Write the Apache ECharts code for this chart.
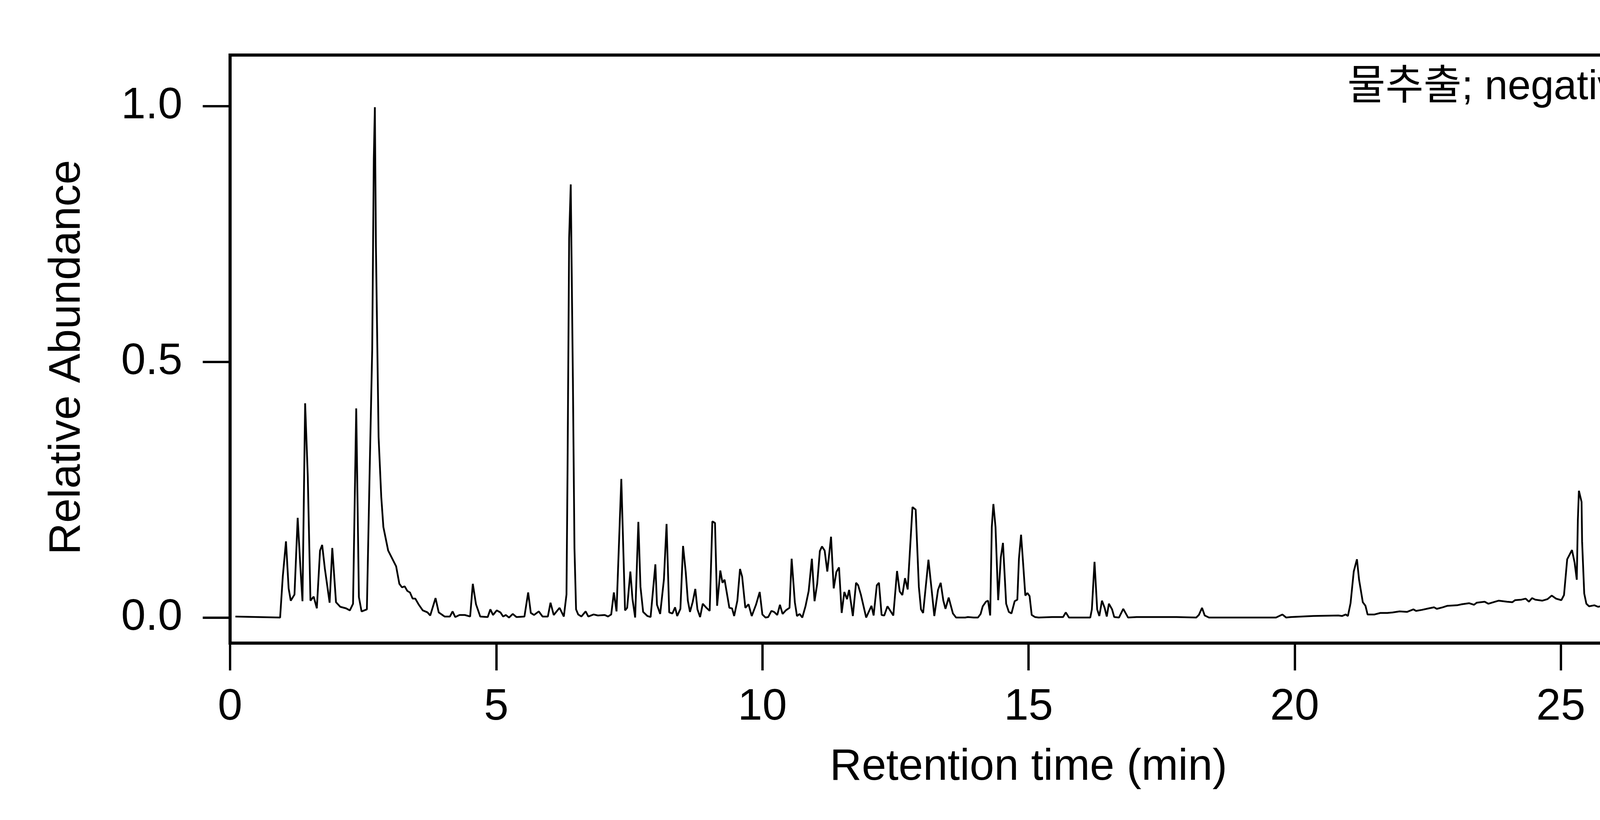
<!DOCTYPE html>
<html>
<head>
<meta charset="utf-8">
<title>Chromatogram</title>
<script src="https://cdn.jsdelivr.net/npm/echarts/dist/echarts.min.js"></script>
<style>
  html, body { margin: 0; padding: 0; background: #fff; }
  #chart { width: 6000px; height: 2100px; }
</style>
</head>
<body>
<div id="chart"></div>
<script>
// 물추출 negative ion mode chromatogram
const retentionTime = [
  0.10, 0.94, 0.99, 1.05, 1.10, 1.14, 1.21, 1.27, 1.32, 1.36, 1.41, 1.46, 1.51, 1.57, 1.63, 1.69, 1.73, 1.78, 1.87, 1.92,
  1.99, 2.07, 2.18, 2.25, 2.31, 2.37, 2.42, 2.47, 2.57, 2.62, 2.67, 2.70, 2.72, 2.74, 2.79, 2.84, 2.88, 2.97, 3.12, 3.18,
  3.23, 3.28, 3.33, 3.38, 3.43, 3.48, 3.54, 3.62, 3.71, 3.76, 3.86, 3.92, 4.03, 4.13, 4.18, 4.23, 4.31, 4.41, 4.51, 4.56,
  4.62, 4.70, 4.84, 4.89, 4.94, 5.01, 5.08, 5.13, 5.18, 5.24, 5.31, 5.38, 5.53, 5.60, 5.65, 5.71, 5.80, 5.87, 5.97, 6.02,
  6.08, 6.19, 6.27, 6.32, 6.34, 6.37, 6.40, 6.44, 6.47, 6.50, 6.54, 6.60, 6.68, 6.73, 6.83, 6.91, 7.04, 7.10, 7.16, 7.21,
  7.26, 7.35, 7.42, 7.46, 7.52, 7.56, 7.61, 7.67, 7.71, 7.76, 7.84, 7.90, 7.99, 8.02, 8.08, 8.15, 8.20, 8.25, 8.31, 8.36,
  8.40, 8.46, 8.51, 8.56, 8.60, 8.64, 8.69, 8.74, 8.78, 8.83, 8.88, 8.94, 9.01, 9.06, 9.11, 9.15, 9.21, 9.25, 9.29, 9.38,
  9.43, 9.47, 9.53, 9.58, 9.62, 9.68, 9.74, 9.80, 9.88, 9.95, 10.00, 10.06, 10.11, 10.17, 10.22, 10.28, 10.33, 10.38, 10.44, 10.51,
  10.55, 10.61, 10.65, 10.70, 10.75, 10.81, 10.87, 10.93, 10.98, 11.03, 11.08, 11.12, 11.17, 11.22, 11.29, 11.34, 11.39, 11.44, 11.49, 11.54,
  11.59, 11.63, 11.70, 11.76, 11.80, 11.85, 11.95, 12.05, 12.09, 12.15, 12.19, 12.24, 12.29, 12.35, 12.46, 12.53, 12.58, 12.63, 12.68, 12.73,
  12.82, 12.88, 12.94, 12.98, 13.02, 13.12, 13.18, 13.23, 13.30, 13.35, 13.40, 13.44, 13.50, 13.58, 13.64, 13.81, 13.86, 13.97, 14.05, 14.10,
  14.14, 14.20, 14.24, 14.28, 14.31, 14.34, 14.38, 14.43, 14.48, 14.52, 14.58, 14.63, 14.68, 14.74, 14.79, 14.82, 14.86, 14.90, 14.94, 14.98,
  15.02, 15.06, 15.12, 15.19, 15.44, 15.65, 15.70, 15.76, 16.10, 16.16, 16.19, 16.24, 16.29, 16.33, 16.38, 16.43, 16.47, 16.51, 16.57, 16.61,
  16.70, 16.78, 16.87, 17.03, 17.78, 18.15, 18.20, 18.26, 18.31, 18.39, 18.95, 19.65, 19.77, 19.84, 19.93, 20.35, 20.82, 20.89, 20.96, 21.00,
  21.05, 21.11, 21.17, 21.21, 21.28, 21.33, 21.37, 21.50, 21.61, 21.74, 21.84, 21.97, 22.11, 22.23, 22.28, 22.39, 22.52, 22.62, 22.67, 22.78,
  22.87, 23.05, 23.14, 23.28, 23.37, 23.42, 23.57, 23.64, 23.70, 23.83, 23.99, 24.09, 24.14, 24.26, 24.34, 24.40, 24.46, 24.52, 24.65, 24.75,
  24.83, 24.91, 25.01, 25.06, 25.12, 25.21, 25.26, 25.30, 25.32, 25.34, 25.39, 25.40, 25.44, 25.48, 25.53, 25.63, 25.70, 25.80, 25.89, 25.96,
  26.01, 26.09, 26.16, 26.21, 26.30, 26.39, 26.48, 26.53, 26.56, 26.62, 26.67, 26.71, 26.77, 26.81, 26.86, 26.90, 26.94, 26.98, 27.04, 27.08,
  27.14, 27.19, 27.25, 27.29, 27.33, 27.37, 27.42, 27.46, 27.50, 27.56, 27.62, 27.69, 27.77, 27.86, 27.93, 27.98, 28.09, 28.18, 28.34, 28.44,
  28.55, 28.63, 28.76, 28.83, 28.97, 29.02, 29.09, 29.13, 29.18, 29.23, 29.28, 29.37, 29.46, 29.56, 29.69, 29.79, 30.00
];

const relAbundance = [
  0.002, 0.000, 0.080, 0.149, 0.057, 0.033, 0.045, 0.195, 0.100, 0.032, 0.419, 0.275, 0.033, 0.041, 0.018, 0.131, 0.142, 0.096, 0.029, 0.136,
  0.030, 0.021, 0.018, 0.014, 0.027, 0.409, 0.040, 0.012, 0.016, 0.275, 0.524, 0.897, 0.998, 0.726, 0.353, 0.236, 0.177, 0.131, 0.100, 0.066,
  0.059, 0.061, 0.052, 0.049, 0.037, 0.037, 0.026, 0.014, 0.010, 0.004, 0.038, 0.010, 0.002, 0.002, 0.012, 0.001, 0.005, 0.005, 0.002, 0.066,
  0.026, 0.002, 0.001, 0.016, 0.005, 0.014, 0.010, 0.002, 0.005, 0.000, 0.007, 0.001, 0.002, 0.049, 0.009, 0.005, 0.012, 0.002, 0.002, 0.029,
  0.005, 0.019, 0.002, 0.045, 0.290, 0.742, 0.847, 0.469, 0.135, 0.016, 0.006, 0.002, 0.012, 0.002, 0.006, 0.004, 0.005, 0.002, 0.006, 0.049,
  0.012, 0.271, 0.014, 0.019, 0.090, 0.036, 0.000, 0.187, 0.060, 0.011, 0.003, 0.001, 0.104, 0.025, 0.007, 0.074, 0.183, 0.010, 0.008, 0.020,
  0.003, 0.017, 0.140, 0.089, 0.033, 0.011, 0.030, 0.056, 0.016, 0.001, 0.027, 0.020, 0.013, 0.188, 0.185, 0.023, 0.092, 0.068, 0.074, 0.019,
  0.018, 0.003, 0.033, 0.095, 0.080, 0.019, 0.026, 0.003, 0.025, 0.050, 0.006, 0.000, 0.001, 0.013, 0.011, 0.005, 0.025, 0.007, 0.014, 0.019,
  0.115, 0.030, 0.003, 0.007, 0.000, 0.022, 0.052, 0.115, 0.032, 0.066, 0.130, 0.139, 0.131, 0.090, 0.158, 0.057, 0.089, 0.098, 0.009, 0.050,
  0.036, 0.054, 0.003, 0.068, 0.063, 0.045, 0.000, 0.023, 0.004, 0.063, 0.068, 0.005, 0.004, 0.022, 0.004, 0.091, 0.051, 0.044, 0.077, 0.055,
  0.216, 0.211, 0.060, 0.016, 0.009, 0.113, 0.054, 0.003, 0.054, 0.068, 0.033, 0.017, 0.039, 0.008, 0.000, 0.000, 0.001, 0.000, 0.000, 0.007,
  0.022, 0.031, 0.033, 0.004, 0.177, 0.222, 0.177, 0.034, 0.118, 0.146, 0.027, 0.011, 0.008, 0.032, 0.035, 0.115, 0.162, 0.104, 0.043, 0.048,
  0.042, 0.005, 0.001, 0.000, 0.001, 0.001, 0.010, 0.000, 0.000, 0.000, 0.016, 0.109, 0.016, 0.003, 0.033, 0.019, 0.002, 0.027, 0.016, 0.001,
  0.000, 0.017, 0.000, 0.001, 0.001, 0.000, 0.005, 0.019, 0.004, 0.000, 0.000, 0.000, 0.006, 0.000, 0.001, 0.003, 0.004, 0.003, 0.006, 0.003,
  0.028, 0.090, 0.114, 0.074, 0.030, 0.023, 0.006, 0.006, 0.009, 0.009, 0.010, 0.012, 0.011, 0.016, 0.013, 0.015, 0.018, 0.020, 0.017, 0.020,
  0.023, 0.024, 0.026, 0.028, 0.025, 0.029, 0.031, 0.027, 0.029, 0.033, 0.031, 0.030, 0.034, 0.035, 0.037, 0.031, 0.038, 0.035, 0.033, 0.036,
  0.043, 0.037, 0.034, 0.044, 0.114, 0.132, 0.107, 0.074, 0.190, 0.248, 0.226, 0.149, 0.047, 0.027, 0.022, 0.024, 0.021, 0.023, 0.023, 0.025,
  0.022, 0.036, 0.054, 0.063, 0.104, 0.125, 0.172, 0.188, 0.215, 0.241, 0.260, 0.279, 0.296, 0.308, 0.312, 0.329, 0.357, 0.332, 0.344, 0.360,
  0.328, 0.334, 0.329, 0.313, 0.298, 0.264, 0.254, 0.215, 0.190, 0.164, 0.133, 0.107, 0.076, 0.043, 0.031, 0.023, 0.022, 0.019, 0.023, 0.019,
  0.018, 0.021, 0.019, 0.016, 0.017, 0.014, 0.009, 0.043, 0.039, 0.025, 0.012, 0.008, 0.005, 0.003, 0.002, 0.000, 0.000
];

const xTicks = [0, 5, 10, 15, 20, 25, 30];
const yTicks = [0, 0.5, 1.0];

const annotation = '물추출; negative ion mode';
const xTitle = 'Retention time (min)';
const yTitle = 'Relative Abundance';

const font = '"Liberation Sans", Arial, "Noto Sans CJK KR", sans-serif';

const seriesData = retentionTime.map((t, i) => [t, relAbundance[i]]);

const options = {
    backgroundColor: '#fff',
    animation: false,
    title: {
        text: annotation,
        right: 1333,
        top: 172,
        padding: 0,
        textStyle: {
            fontFamily: font,
            fontSize: 106,
            fontWeight: 'normal',
            color: '#000'
        }
    },
    grid: {
        left: 589,
        right: 1323,
        top: 141,
        bottom: 453,
        show: true,
        borderColor: '#000',
        borderWidth: 8,
        containLabel: false
    },
    xAxis: {
        type: 'value',
        min: xTicks[0],
        max: xTicks[xTicks.length - 1],
        interval: 5,
        name: xTitle,
        nameLocation: 'middle',
        nameGap: 262,
        nameTextStyle: { fontFamily: font, fontSize: 113, color: '#000' },
        axisLine: { show: true, onZero: false, lineStyle: { color: '#000', width: 8 } },
        axisTick: { show: true, inside: false, length: 70, lineStyle: { color: '#000', width: 6 } },
        axisLabel: { margin: 108, fontFamily: font, fontSize: 113, color: '#000' },
        splitLine: { show: false }
    },
    yAxis: {
        type: 'value',
        min: -0.05,
        max: 1.1,
        name: yTitle,
        nameLocation: 'middle',
        nameGap: 360,
        nameTextStyle: { fontFamily: font, fontSize: 113, color: '#000', padding: [0, 42, 0, 0] },
        axisLine: { show: true, onZero: false, lineStyle: { color: '#000', width: 8 } },
        axisTick: { show: true, inside: false, length: 70, customValues: yTicks, lineStyle: { color: '#000', width: 6 } },
        axisLabel: {
            margin: 122,
            customValues: yTicks,
            fontFamily: font,
            fontSize: 113,
            color: '#000',
            formatter: v => v.toFixed(1)
        },
        splitLine: { show: false }
    },
    series: [
        {
            name: yTitle,
            type: 'line',
            data: seriesData,
            showSymbol: false,
            symbol: 'none',
            lineStyle: { color: '#000', width: 4.5 }
        }
    ]
};

const E = echarts.init(document.getElementById('chart'));
E.setOption(options);
window.onresize = function () {
    E.resize();
};
</script>
</body>
</html>
